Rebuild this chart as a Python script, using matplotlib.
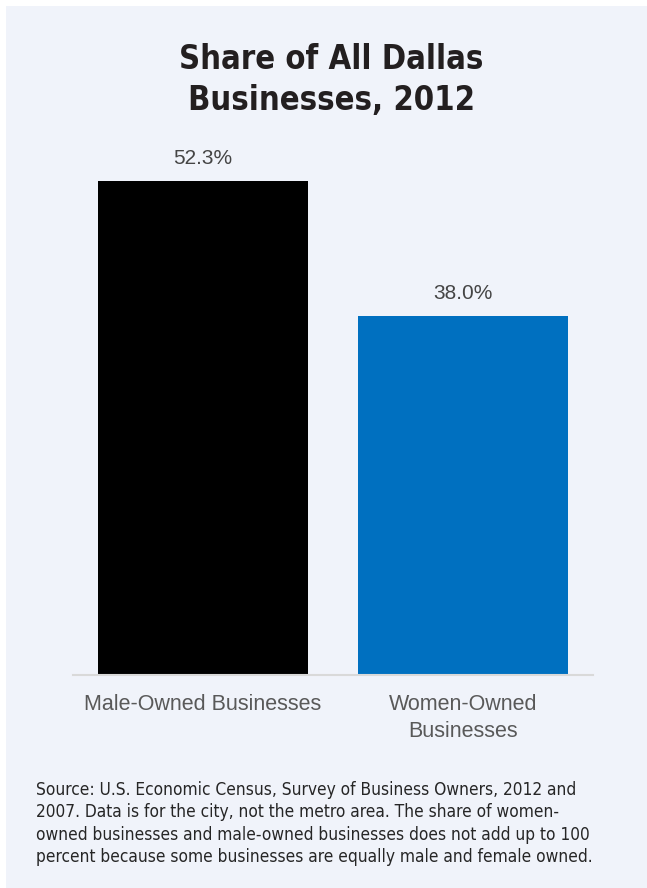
import matplotlib.pyplot as plt
from matplotlib.patches import Rectangle

categories = ['Male-Owned Businesses', 'Women-Owned\nBusinesses']
shares = [52.3, 38.0]
bar_colors = ['#000000', '#0070C0']
title = 'Share of All Dallas\nBusinesses, 2012'
source = ('Source: U.S. Economic Census, Survey of Business Owners, 2012 and\n'
          '2007. Data is for the city, not the metro area. The share of women-\n'
          'owned businesses and male-owned businesses does not add up to 100\n'
          'percent because some businesses are equally male and female owned.')

W, H = 647, 888
bg = '#F0F3FA'

fig = plt.figure(figsize=(W / 100, H / 100), dpi=100)
fig.patch.set_facecolor('white')
# light panel behind everything
fig.patches.append(Rectangle((6 / W, 0), 1 - 6 / W, 1 - 6 / H, transform=fig.transFigure,
                             facecolor=bg, edgecolor='none', zorder=-5))

# axes: x 73..593 px, baseline at 675 px
ymax = 56
ax = fig.add_axes([73 / W, (H - 675) / H, 520 / W, ymax * 9.445 / H])
ax.set_facecolor('none')
x = range(len(categories))
bars = ax.bar(x, shares, width=0.805, color=bar_colors, zorder=2)
ax.set_xlim(-0.5, 1.5)
ax.set_ylim(0, ymax)

for b, v in zip(bars, shares):
    ax.annotate(f'{v:.1f}%', (b.get_x() + b.get_width() / 2, v), xytext=(0, 12.5),
                textcoords='offset points', ha='center', va='baseline',
                fontsize=15, color='#454545', family='Liberation Sans')

ax.set_xticks(list(x))
ax.set_xticklabels(categories, fontsize=15.5, color='#595959', family='Liberation Sans',
                   linespacing=1.35)
ax.tick_params(axis='x', length=0, pad=14)
ax.set_yticks([])
for s in ['top', 'left', 'right']:
    ax.spines[s].set_visible(False)
ax.spines['bottom'].set_color('#D9D9D9')
ax.spines['bottom'].set_linewidth(1.5)

fig.text(331 / W, 1 - 43 / H, title, ha='center', va='top', fontsize=23.5,
         fontweight='bold', family='DejaVu Sans', fontstretch='condensed', color='#231F20',
         linespacing=1.32)

fig.text(36 / W, 1 - 781 / H, source, ha='left', va='top', fontsize=12.4,
         family='DejaVu Sans', fontstretch='condensed', color='#262626', linespacing=1.31)

fig.savefig('out.png', dpi=100, facecolor=fig.get_facecolor())
